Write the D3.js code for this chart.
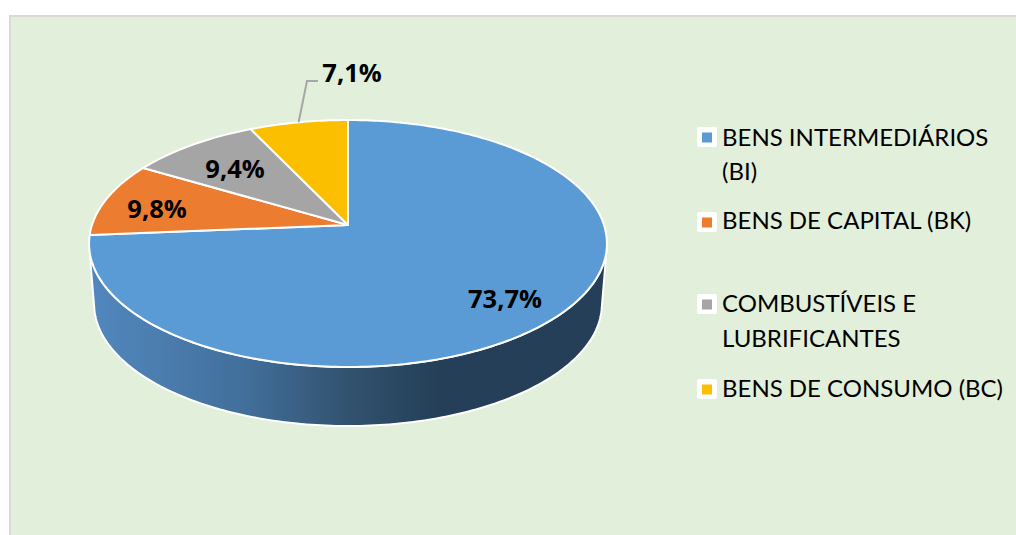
<!DOCTYPE html>
<html>
<head>
<meta charset="utf-8">
<script src="https://cdn.jsdelivr.net/npm/d3@7"></script>
<style>
html, body { margin: 0; padding: 0; background: #fff; overflow: hidden; }
svg { display: block; }
</style>
</head>
<body>
<div id="chart"></div>
<script>
// chart data
var categories = ["BENS INTERMEDIÁRIOS (BI)", "BENS DE CAPITAL (BK)", "COMBUSTÍVEIS E LUBRIFICANTES", "BENS DE CONSUMO (BC)"];
var values = [73.7, 9.8, 9.4, 7.1];
var valueLabels = ["73,7%", "9,8%", "9,4%", "7,1%"];
var legendLines = [["BENS INTERMEDIÁRIOS", "(BI)"], ["BENS DE CAPITAL (BK)"], ["COMBUSTÍVEIS E", "LUBRIFICANTES"], ["BENS DE CONSUMO (BC)"]];
var colors = ["#5B9BD5", "#EC7C30", "#A5A5A5", "#FBBF00"];

var width = 1016, height = 535;
var svg = d3.select("#chart").append("svg").attr("width", width).attr("height", height);

// panel
svg.append("rect").attr("x", 9).attr("y", 15).attr("width", width).attr("height", height).attr("fill", "#d9d9d9");
svg.append("rect").attr("x", 11).attr("y", 17).attr("width", width).attr("height", height).attr("fill", "#E2EFDA");

// pie is drawn as a tilted disc, projected with a simple perspective
var persp = -0.15;
var top_disc = { cx: 348, cy: 225, a: 256, b: 120.7 };
var bottom_disc = { cx: 348, cy: 285.7, a: 251, b: 119.3 };

var project = function (disc, angle) {
    var u = Math.sin(angle), v = -Math.cos(angle);
    var w = 1 + persp * v;
    return [disc.cx + disc.a * u / w, disc.cy + disc.b * v / w];
}

var sampleArc = function (disc, start, end) {
    var n = Math.max(2, Math.ceil(Math.abs(end - start) * 60));
    return d3.range(n + 1).map(function (i) {
        return project(disc, start + (end - start) * i / n);
    });
}

var line = d3.line();
var pie = d3.pie().sort(null).value(function (d) { return d; });
var arcs = pie(values);

// side wall
var defs = svg.append("defs");
var grad = defs.append("linearGradient").attr("id", "sideGrad")
    .attr("gradientUnits", "userSpaceOnUse")
    .attr("x1", 90).attr("x2", 605).attr("y1", 0).attr("y2", 0);
grad.append("stop").attr("offset", "0%").attr("stop-color", "#5288BE");
grad.append("stop").attr("offset", "30%").attr("stop-color", "#426F9B");
grad.append("stop").attr("offset", "50%").attr("stop-color", "#32526F");
grad.append("stop").attr("offset", "68%").attr("stop-color", "#243F57");
grad.append("stop").attr("offset", "100%").attr("stop-color", "#243F57");

var sideUpper = sampleArc(top_disc, Math.PI / 2 + 0.2, Math.PI * 1.5 - 0.2);
var sideLower = sampleArc(bottom_disc, Math.PI * 1.5 - 0.2, Math.PI / 2 + 0.2);
svg.append("path")
    .attr("d", line(sideUpper.concat(sideLower)) + "Z")
    .attr("fill", "url(#sideGrad)")
    .attr("stroke", "#fff")
    .attr("stroke-width", 2)
    .attr("stroke-linejoin", "round");

// top slices
svg.selectAll("path.slice").data(arcs).enter().append("path")
    .attr("class", "slice")
    .attr("d", function (d) {
        return line([[top_disc.cx, top_disc.cy]].concat(sampleArc(top_disc, d.startAngle, d.endAngle))) + "Z";
    })
    .attr("fill", function (d, i) { return colors[i]; })
    .attr("stroke", "#fff")
    .attr("stroke-width", 2)
    .attr("stroke-linejoin", "round");

// leader line of the last slice
var lastArc = arcs[arcs.length - 1];
var leaderStart = project(top_disc, (lastArc.startAngle + lastArc.endAngle) / 2);
svg.append("path")
    .attr("d", line([leaderStart, [307, 81], [318, 81]]))
    .attr("fill", "none")
    .attr("stroke", "#A6A6A6")
    .attr("stroke-width", 2);

// value labels
var labelPos = [[505, 308], [157, 218], [235, 178], [352, 82]];
svg.selectAll("text.value").data(valueLabels).enter().append("text")
    .attr("class", "value")
    .attr("x", function (d, i) { return labelPos[i][0]; })
    .attr("y", function (d, i) { return labelPos[i][1]; })
    .attr("text-anchor", "middle")
    .attr("font-family", "'Open Sans', sans-serif")
    .attr("font-weight", 700)
    .attr("font-size", 25.5)
    .attr("fill", "#000")
    .text(function (d) { return d; });

// legend
var legendKeyY = [127, 212, 294, 379];
var legendBase = [[146, 180], [229], [312, 347], [397]];
var legend = svg.selectAll("g.legend").data(categories).enter().append("g").attr("class", "legend");
legend.append("rect")
    .attr("x", 697)
    .attr("y", function (d, i) { return legendKeyY[i]; })
    .attr("width", 20).attr("height", 20).attr("rx", 2)
    .attr("fill", "#fff");
legend.append("rect")
    .attr("x", 702)
    .attr("y", function (d, i) { return legendKeyY[i] + 5.5; })
    .attr("width", 10).attr("height", 10)
    .attr("fill", function (d, i) { return colors[i]; });
legend.each(function (d, i) {
    var g = d3.select(this);
    legendLines[i].forEach(function (txt, j) {
        g.append("text")
            .attr("x", 722)
            .attr("y", legendBase[i][j])
            .attr("font-family", "Lato, sans-serif")
            .attr("font-size", 24)
            .attr("fill", "#000")
            .text(txt);
    });
});
</script>
</body>
</html>
